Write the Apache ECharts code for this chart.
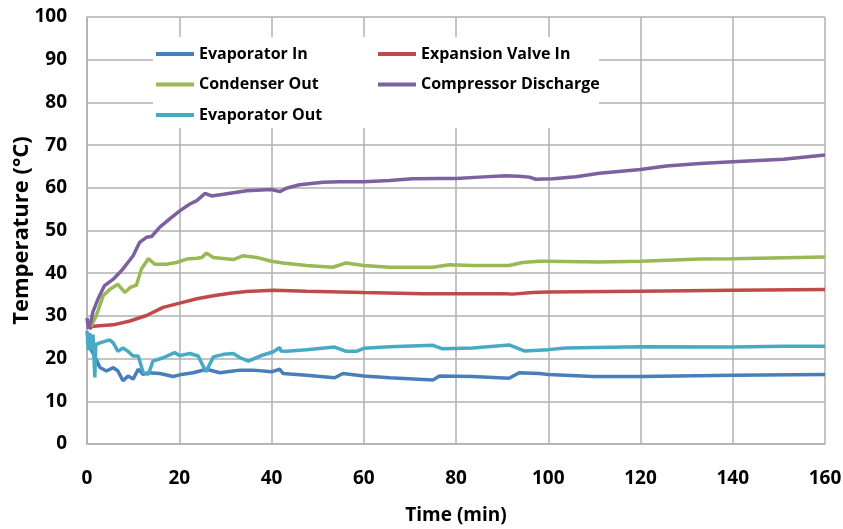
<!DOCTYPE html>
<html>
<head>
<meta charset="utf-8">
<script src="https://cdn.jsdelivr.net/npm/echarts@6/dist/echarts.min.js"></script>
<style>
html,body{margin:0;padding:0;background:#fff;}
#chart{width:843px;height:529px;}
</style>
</head>
<body>
<div id="chart"></div>
<script>
// ---- Data (time in minutes, temperature in °C) ----
const seriesNames = ["Evaporator In", "Expansion Valve In", "Condenser Out", "Compressor Discharge", "Evaporator Out"];

const evapInT = [0, 0.9, 2, 2.8, 4.2, 5.7, 6.7, 7.8, 8.9, 10, 11.1, 12.2, 13.3, 15.8, 18.7, 20.1, 23, 25.9, 28.8, 31.7, 33.2, 36, 40, 41.8, 42.5, 47.6, 53.7, 55.5, 60, 65.6, 75, 76.4, 83.6, 91.5, 93.7, 98, 100, 109.7, 120, 140, 160];
const evapInV = [24, 22.1, 19.8, 17.9, 17.1, 17.9, 17.1, 14.8, 15.9, 15.2, 17.5, 16.3, 16.7, 16.5, 15.8, 16.2, 16.7, 17.5, 16.7, 17.1, 17.3, 17.3, 16.9, 17.5, 16.5, 16.1, 15.5, 16.5, 15.9, 15.5, 15, 15.9, 15.8, 15.4, 16.7, 16.5, 16.3, 15.8, 15.8, 16.1, 16.3];

const expValveT = [0.5, 1.3, 5.7, 9.3, 12.9, 16.5, 20.1, 23.8, 27.4, 31, 34.6, 40.4, 47.6, 60, 72.8, 80, 90.8, 92.2, 96.6, 100, 120, 140, 160];
const expValveV = [27, 27.6, 27.9, 28.8, 30.1, 32, 33, 34, 34.7, 35.3, 35.7, 36, 35.8, 35.5, 35.2, 35.2, 35.2, 35.1, 35.5, 35.6, 35.8, 36, 36.2];

const condOutT = [0.8, 1.3, 2, 3.5, 4.9, 6.7, 8.2, 9.3, 10.7, 11.8, 13.3, 14.7, 17.2, 19.4, 21.6, 23.8, 24.9, 25.9, 27.4, 31.7, 33.9, 36.8, 40, 42.5, 47.6, 53.3, 56.2, 60, 65.6, 75, 78.6, 83.6, 91.5, 94.4, 98, 100, 111.1, 120, 132.9, 140, 160];
const condOutV = [27.5, 28.5, 30, 34.7, 36.2, 37.4, 35.5, 36.6, 37.2, 41, 43.4, 42.1, 42.1, 42.5, 43.3, 43.5, 43.7, 44.7, 43.7, 43.2, 44.1, 43.7, 42.8, 42.4, 41.8, 41.4, 42.4, 41.8, 41.4, 41.4, 42, 41.8, 41.8, 42.5, 42.8, 42.8, 42.6, 42.8, 43.3, 43.4, 43.8];

const compDisT = [0, 0.3, 0.8, 1.3, 2.4, 3.8, 5.7, 7.8, 10, 11.4, 12.9, 14, 15.8, 18, 20.1, 22.3, 23.8, 25.6, 27, 29.6, 34.6, 40, 41.8, 43.2, 46.1, 51.2, 54.8, 60, 65.6, 70.6, 76.4, 80, 85, 90.8, 93.7, 95.9, 97.3, 101, 106, 111.1, 120, 125.6, 132.9, 140, 151, 160];
const compDisV = [29.5, 27, 28.5, 31, 34, 37.1, 38.6, 41, 44.1, 47.2, 48.4, 48.6, 50.8, 52.8, 54.6, 56.2, 57, 58.7, 58.1, 58.5, 59.3, 59.6, 59.1, 59.9, 60.7, 61.3, 61.4, 61.4, 61.7, 62.1, 62.2, 62.2, 62.5, 62.8, 62.7, 62.5, 62, 62.1, 62.6, 63.4, 64.3, 65.1, 65.7, 66.1, 66.7, 67.7];

const evapOutT = [0, 0.3, 0.6, 0.9, 1.3, 1.7, 1.9, 2.8, 4.9, 5.7, 6.7, 7.8, 8.9, 10, 11.1, 12.2, 13.3, 14.3, 16.5, 19, 20.1, 22.3, 24.1, 25.8, 27.4, 29.6, 31.7, 33.2, 35, 37.5, 40.4, 41.8, 42, 43.2, 47.6, 53.7, 56.2, 58.4, 60, 65.6, 75, 77.1, 83.6, 91.5, 94.8, 100, 103.8, 120, 140, 151, 160];
const evapOutV = [26.5, 22, 26, 22.1, 25.6, 15.6, 23.3, 23.7, 24.4, 23.7, 21.7, 22.5, 21.7, 20.6, 20.6, 16.7, 16.3, 19.4, 20.2, 21.4, 20.7, 21.2, 20.6, 16.9, 20.4, 21, 21.2, 20.2, 19.4, 20.6, 21.6, 22.6, 21.8, 21.7, 22.1, 22.7, 21.7, 21.7, 22.4, 22.8, 23.1, 22.3, 22.5, 23.2, 21.8, 22.1, 22.5, 22.8, 22.7, 22.9, 22.9];

const xTicks = [0, 20, 40, 60, 80, 100, 120, 140, 160];
const yTicks = [0, 10, 20, 30, 40, 50, 60, 70, 80, 90, 100];

// ---- Build ----
const zip = (t, v) => t.map((x, i) => [x, v[i]]);
const seriesData = [zip(evapInT, evapInV), zip(expValveT, expValveV), zip(condOutT, condOutV), zip(compDisT, compDisV), zip(evapOutT, evapOutV)];
const colors = ["#4A7EBB", "#BE4B48", "#98B954", "#7D60A0", "#46AAC5"];

const font = "'Open Sans', 'Liberation Sans', sans-serif";

const chart = echarts.init(document.getElementById('chart'), null, {renderer: 'canvas'});
const legendCommon = {
  orient: 'vertical',
  icon: 'rect',
  itemWidth: 38,
  itemHeight: 4,
  itemGap: 10.5,
  padding: 0,
  textStyle: {fontFamily: font, fontWeight: 'bold', fontSize: 16, color: '#000', lineHeight: 20},
  selectedMode: false,
  z: 10
};
chart.setOption({
  animation: false,
  backgroundColor: '#fff',
  color: colors,
  grid: {left: 87, right: 18, top: 17, bottom: 85, containLabel: false, outerBoundsMode: 'none'},
  legend: [
    Object.assign({}, legendCommon, {left: 156, top: 44, data: [seriesNames[0], seriesNames[2], seriesNames[4]]}),
    Object.assign({}, legendCommon, {left: 378, top: 44, data: [seriesNames[1], seriesNames[3]]})
  ],
  graphic: [{
    type: 'rect', left: 153, top: 37, z: 5,
    shape: {width: 446, height: 91},
    style: {fill: '#fff'}
  }],
  xAxis: {
    type: 'value', min: xTicks[0], max: xTicks[xTicks.length - 1], interval: 20,
    name: 'Time (min)', nameLocation: 'middle', nameGap: 62, nameMoveOverlap: false,
    nameTextStyle: {fontFamily: font, fontWeight: 'bold', fontSize: 19, color: '#000'},
    axisLine: {lineStyle: {color: '#b0b0b0', width: 1.5}},
    axisTick: {show: false},
    axisLabel: {fontFamily: font, fontWeight: 'bold', fontSize: 19, color: '#000', margin: 25},
    splitLine: {show: true, lineStyle: {color: '#b0b0b0', width: 1.5}}
  },
  yAxis: {
    type: 'value', min: yTicks[0], max: yTicks[yTicks.length - 1], interval: 10,
    name: 'Temperature (°C)', nameLocation: 'middle', nameGap: 54, nameRotate: 90, nameMoveOverlap: false,
    nameTextStyle: {fontFamily: font, fontWeight: 'bold', fontSize: 22, color: '#000'},
    axisLine: {show: true, lineStyle: {color: '#b0b0b0', width: 1.5}},
    axisTick: {show: false},
    axisLabel: {fontFamily: font, fontWeight: 'bold', fontSize: 19, color: '#000', margin: 20},
    splitLine: {show: true, lineStyle: {color: '#b0b0b0', width: 1.5}}
  },
  series: seriesNames.map((n, i) => ({
    name: n, type: 'line', data: seriesData[i],
    symbol: 'none', showSymbol: false, smooth: false,
    lineStyle: {width: 3.5, color: colors[i]},
    itemStyle: {color: colors[i]},
    z: 2 + i * 0.1
  }))
});
</script>
</body>
</html>
